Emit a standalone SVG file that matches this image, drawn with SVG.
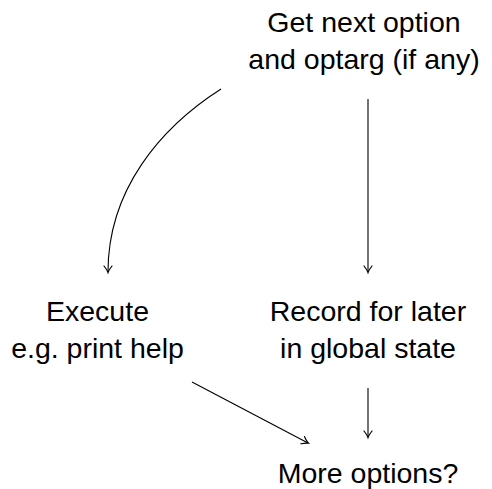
<svg xmlns="http://www.w3.org/2000/svg" width="492" height="489" viewBox="0 0 492 489">
<style>
text{font-family:"Liberation Sans",Arial,sans-serif;font-size:28.5px;fill:#000;text-anchor:middle}
.e{fill:none;stroke:#000;stroke-width:1.1}
</style>
<defs>
<marker id="ah" markerUnits="userSpaceOnUse" markerWidth="12" markerHeight="12" viewBox="-8 -6 10 12" refX="0" refY="0" orient="auto">
<path d="M-6,-4 Q-2,-0.8 0.5,0 Q-2,0.8 -6,4" fill="none" stroke="#000" stroke-width="1.2" stroke-linecap="round"/>
</marker>
</defs>
<rect width="492" height="489" fill="#fff"/>
<g id="get"><text x="364" y="32">Get next option</text><text x="364" y="69">and optarg (if any)</text></g>
<g id="execute"><text x="97.5" y="321">Execute</text><text x="97.5" y="358">e.g. print help</text></g>
<g id="record"><text x="368" y="321">Record for later</text><text x="368" y="358">in global state</text></g>
<g id="more"><text x="368" y="483">More options?</text></g>
<g id="connectors">
<path class="e" d="M221,89 C160,128 108,190 108,272" marker-end="url(#ah)"/>
<path class="e" d="M368,99 L368,272" marker-end="url(#ah)"/>
<path class="e" d="M368,388 L368,437" marker-end="url(#ah)"/>
<path class="e" d="M192,382 L308,443" marker-end="url(#ah)"/>
</g>
</svg>
